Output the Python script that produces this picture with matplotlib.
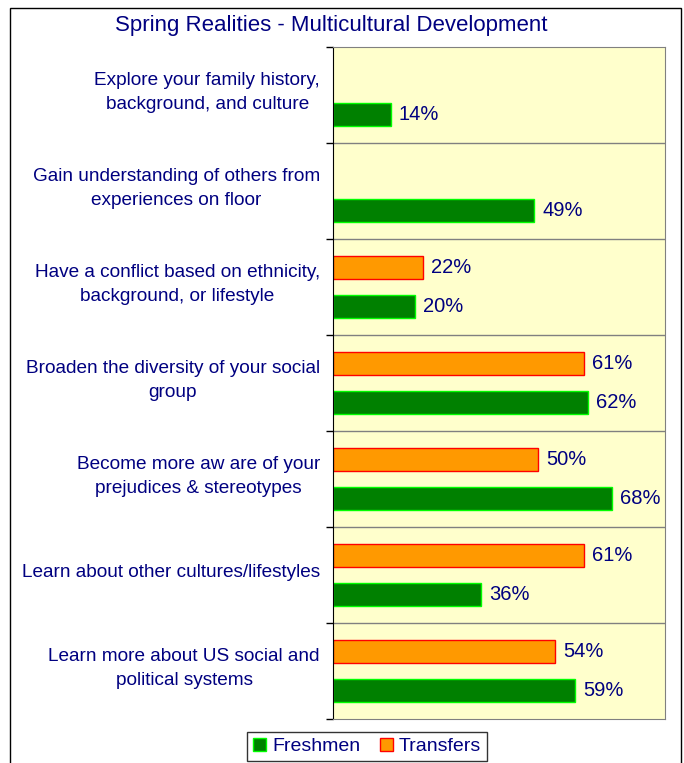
import numpy as np
import matplotlib.pyplot as plt
from matplotlib.patches import Rectangle, Patch
from matplotlib.transforms import blended_transform_factory, ScaledTranslation

plt.rcParams['font.family'] = ['Liberation Sans', 'DejaVu Sans']

categories = ["Explore your family history,\nbackground, and culture",
              "Gain understanding of others from\nexperiences on floor",
              "Have a conflict based on ethnicity,\nbackground, or lifestyle",
              "Broaden the diversity of your social\ngroup",
              "Become more aw are of your\nprejudices & stereotypes",
              "Learn about other cultures/lifestyles",
              "Learn more about US social and\npolitical systems"]
freshmen = [14, 49, 20, 62, 68, 36, 59]
transfers = [None, None, 22, 61, 50, 61, 54]

navy = '#000080'
fig = plt.figure(figsize=(6.84, 7.63), dpi=100)
ax = fig.add_axes([333/684, 1-719/763, (665-333)/684, (719-47)/763])
ax.set_facecolor('#ffffcc')

y = np.arange(len(categories))
ax.barh(y + 0.2, freshmen, height=0.24, color='#008000', edgecolor='#00ff00', linewidth=1)
ty = [yy - 0.2 for yy, v in zip(y, transfers) if v is not None]
tv = [v for v in transfers if v is not None]
ax.barh(ty, tv, height=0.24, color='#ff9900', edgecolor='#ff0000', linewidth=1)

off = ScaledTranslation(8/100, 0, fig.dpi_scale_trans)
for yy, v in zip(y + 0.2, freshmen):
    ax.text(v, yy, f"{v}%", color=navy, fontsize=14.5, va='center', ha='left',
            transform=ax.transData + off)
for yy, v in zip(ty, tv):
    ax.text(v, yy, f"{v}%", color=navy, fontsize=14.5, va='center', ha='left',
            transform=ax.transData + off)

ax.set_xlim(0, 80.8)
ax.set_ylim(len(categories) - 0.5, -0.5)
ax.set_xticks([])
ax.set_yticks([])
ax.set_yticks(np.arange(len(categories) + 1) - 0.5, minor=True)
ax.tick_params(axis='y', which='minor', length=5, width=1, direction='out', left=True, labelleft=False)
for b in np.arange(1, len(categories)) - 0.5:
    ax.axhline(b, color='#808080', lw=1)
for s in ['top', 'right', 'bottom']:
    ax.spines[s].set_color('#808080')
ax.spines['left'].set_color('black')

lab = blended_transform_factory(ax.transAxes, ax.transData) + ScaledTranslation(-13/100, 0, fig.dpi_scale_trans)
for yy, c in zip(y, categories):
    ax.text(0, yy - 0.03, c, transform=lab, ha='right', va='center', multialignment='center',
            color=navy, fontsize=13.7, linespacing=1.55)

fig.text(0.485, 1 - 25/763, "Spring Realities - Multicultural Development", color=navy,
         fontsize=16, ha='center', va='center')

fig.patches.append(Rectangle((10/684, -0.01), 671/684, 1.01 - 8/763, transform=fig.transFigure,
                             fill=False, edgecolor='black', lw=1))

handles = [Patch(facecolor='#008000', edgecolor='#00ff00', label='Freshmen'),
           Patch(facecolor='#ff9900', edgecolor='#ff0000', label='Transfers')]
leg = fig.legend(handles=handles, loc='upper center', bbox_to_anchor=(367/684, 1 - 722/763), ncol=2,
                 frameon=True, fancybox=False, edgecolor='black', fontsize=14,
                 handlelength=0.7, handleheight=0.7, handletextpad=0.3, columnspacing=1.0,
                 borderpad=0.3)
leg.get_frame().set_linewidth(1)
for t in leg.get_texts():
    t.set_color(navy)

fig.savefig('out.png', dpi=100)
